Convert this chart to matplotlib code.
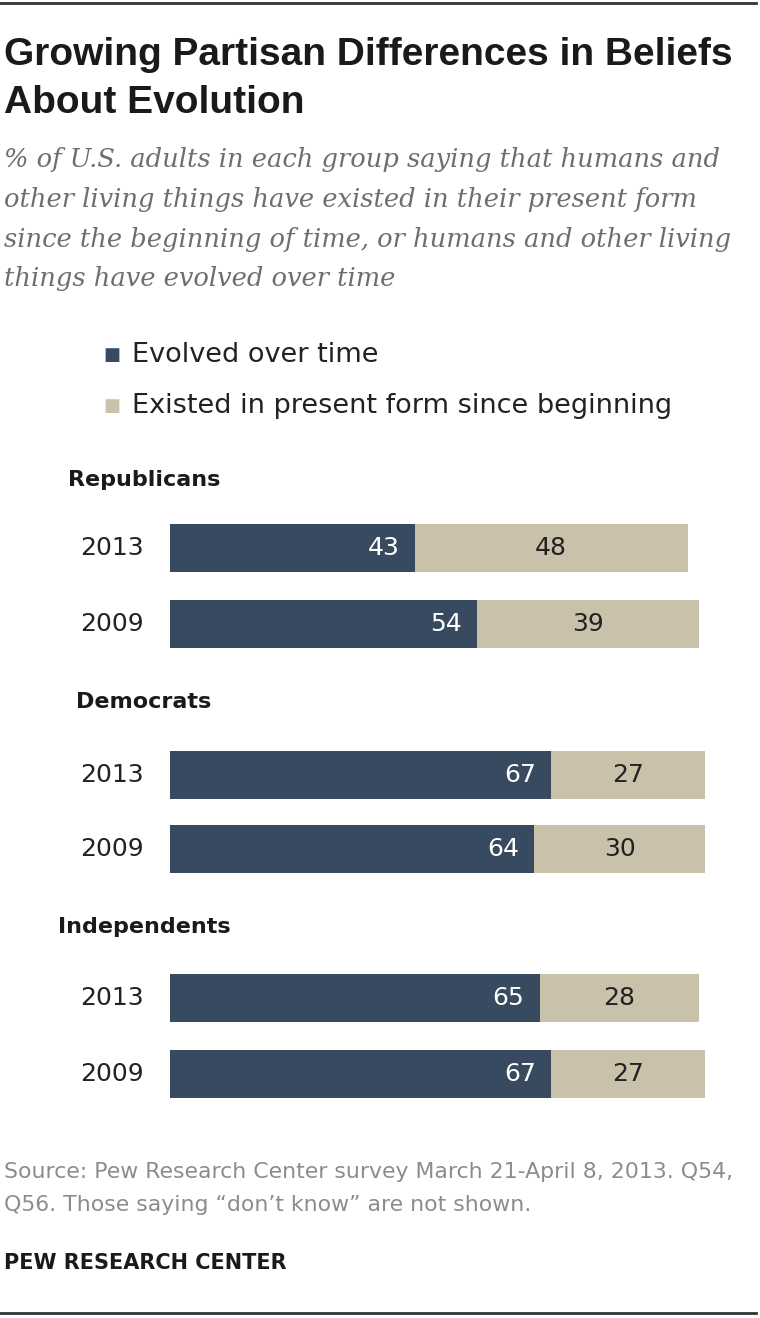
import matplotlib
matplotlib.use("Agg")
import matplotlib.pyplot as plt

groups = ["Republicans", "Democrats", "Independents"]
years = ["2013", "2009"]
evolved = [[43, 54], [67, 64], [65, 67]]
existed = [[48, 39], [27, 30], [28, 27]]

dark = "#374a5f"
light = "#c9c1a9"

plt.rcParams["font.family"] = ["DejaVu Sans"]

fig = plt.figure(figsize=(7.6, 13.18), dpi=100)
W, H = 760, 1318

def ft(x, y, s, **kw):
    fig.text(x / W, 1 - y / H, s, **kw)

# rules top and bottom
fig.add_artist(plt.Line2D([0, 0.995], [1 - 3 / H, 1 - 3 / H], color="#333333", lw=2))
fig.add_artist(plt.Line2D([0, 0.995], [1 - 1313 / H, 1 - 1313 / H], color="#333333", lw=2))

ft(4, 55, "Growing Partisan Differences in Beliefs", fontsize=28, fontweight="bold",
   family=["Liberation Sans", "DejaVu Sans"], va="center", color="#1a1a1a")
ft(4, 103, "About Evolution", fontsize=28, fontweight="bold",
   family=["Liberation Sans", "DejaVu Sans"], va="center", color="#1a1a1a")

sub = ["% of U.S. adults in each group saying that humans and",
       "other living things have existed in their present form",
       "since the beginning of time, or humans and other living",
       "things have evolved over time"]
for i, line in enumerate(sub):
    ft(4, 160 + 39.5 * i, line, fontsize=18.5, style="italic", family="DejaVu Serif",
       color="#6e6e6e", va="center")

# legend
ft(103, 355, "\u25a0", fontsize=13, color=dark, va="center")
ft(132, 355, "Evolved over time", fontsize=19.5, va="center", color="#222222")
ft(103, 406, "\u25a0", fontsize=13, color=light, va="center")
ft(132, 406, "Existed in present form since beginning", fontsize=19.5, va="center", color="#222222")

# bars
ax = fig.add_axes([170 / W, 0, 569 / W, 1])
ax.set_xlim(0, 100)
ax.set_ylim(H, 0)
ax.axis("off")

group_label_y = [480, 702, 927]
bar_y = [[548, 624], [775, 849], [998, 1074]]
bh = 48

for g in range(len(groups)):
    ft(144, group_label_y[g], groups[g], fontsize=16, fontweight="bold", ha="center",
       va="center", color="#1a1a1a")
    for k in range(len(years)):
        y = bar_y[g][k]
        e = evolved[g][k]
        x2 = existed[g][k]
        ax.barh(y, e, height=bh, color=dark)
        ax.barh(y, x2, left=e, height=bh, color=light)
        ax.text(e - 2.7, y, str(e), ha="right", va="center", color="white", fontsize=18)
        ax.text(e + x2 / 2, y, str(x2), ha="center", va="center", color="#222222", fontsize=18)
        ft(112, y, years[k], fontsize=18, ha="center", va="center", color="#222222")

ft(4, 1172, "Source: Pew Research Center survey March 21-April 8, 2013. Q54,",
   fontsize=15.8, color="#8c8c8c", va="center")
ft(4, 1205, "Q56. Those saying \u201cdon\u2019t know\u201d are not shown.",
   fontsize=15.8, color="#8c8c8c", va="center")
ft(4, 1263, "PEW RESEARCH CENTER", fontsize=15, fontweight="bold", color="#1a1a1a", va="center")

fig.savefig("out.png", dpi=100)
